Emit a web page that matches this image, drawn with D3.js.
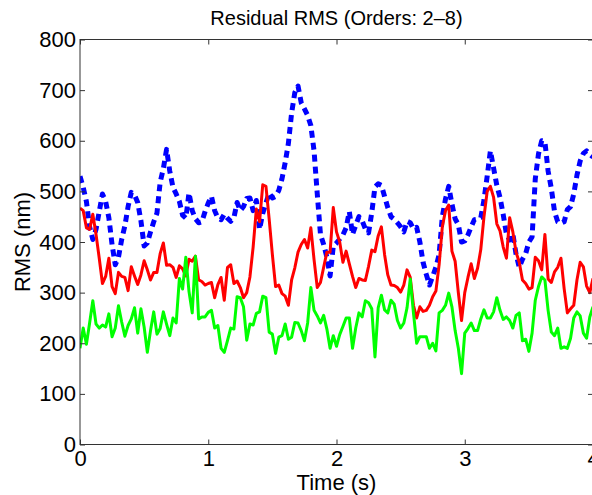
<!DOCTYPE html>
<html>
<head>
<meta charset="utf-8">
<script src="https://cdn.jsdelivr.net/npm/d3@7"></script>
<style>
  body { margin: 0; background: #fff; }
  svg { display: block; }
  text { font-family: "Liberation Sans", Arial, Helvetica, sans-serif; fill: #000; }
</style>
</head>
<body>
<svg id="chart" width="592" height="495"></svg>
<script>
// sample step of the residual series, seconds
const dt = 0.025;

const blueRms = [
  530, 508, 480, 430, 405, 425, 460, 495, 480, 448, 395, 355, 370, 405, 432, 470, 498, 493, 478, 442,
  392, 398, 420, 440, 457, 518, 545, 583, 540, 508, 495, 480, 453, 447, 497, 462, 446, 438, 440, 460,
  477, 490, 462, 447, 444, 455, 447, 441, 448, 478, 462, 470, 486, 487, 462, 482, 425, 457, 477, 497,
  487, 490, 502, 525, 557, 595, 655, 695, 708, 675, 663, 650, 630, 580, 495, 415, 395, 370, 333, 392,
  398, 406, 414, 428, 460, 415, 433, 450, 442, 426, 418, 458, 509, 515, 512, 490, 468, 450, 445, 438,
  430, 420, 441, 438, 426, 429, 400, 360, 336, 315, 332, 350, 375, 450, 485, 510, 475, 446, 434, 400,
  402, 414, 430, 444, 445, 448, 483, 530, 580, 546, 512, 488, 454, 416, 404, 416, 376, 350, 366, 377,
  400, 410, 525, 574, 600, 598, 540, 506, 460, 440, 437, 440, 464, 470, 495, 532, 560, 575, 580, 573,
  568
];

const redRms = [
  467, 462, 428, 425, 455, 415, 368, 318, 332, 368, 312, 298, 340, 332, 330, 304, 351, 333, 316, 335,
  363, 345, 325, 340, 340, 377, 398, 354, 355, 350, 330, 353, 347, 333, 366, 362, 372, 325, 322, 315,
  318, 320, 290, 316, 330, 285, 350, 355, 318, 323, 310, 290, 300, 331, 390, 465, 440, 513, 510, 445,
  375, 312, 315, 298, 293, 275, 325, 349, 380, 395, 405, 388, 428, 365, 310, 320, 350, 380, 380, 468,
  420, 400, 360, 382, 357, 332, 310, 328, 325, 324, 352, 384, 381, 412, 430, 375, 335, 315, 314, 310,
  301, 315, 345, 330, 275, 250, 272, 263, 265, 275, 292, 303, 355, 430, 462, 473, 382, 362, 300, 245,
  300, 330, 357, 328, 348, 385, 450, 500, 510, 488, 436, 422, 390, 368, 448, 420, 380, 360, 325, 318,
  307, 310, 370, 363, 345, 415, 327, 320, 341, 350, 368, 308, 260, 268, 275, 325, 360, 351, 313, 300,
  328
];

const greenRms = [
  190, 230, 198, 240, 284, 238, 230, 236, 232, 258, 213, 230, 274, 242, 214, 235, 248, 270, 220, 268,
  232, 182, 225, 262, 218, 229, 262, 238, 215, 250, 240, 328, 307, 370, 302, 260, 372, 248, 252, 252,
  261, 265, 230, 235, 190, 182, 205, 230, 228, 292, 290, 272, 206, 238, 236, 259, 262, 293, 290, 222,
  218, 180, 212, 215, 238, 208, 212, 241, 240, 225, 205, 240, 310, 265, 254, 240, 255, 228, 190, 215,
  194, 217, 233, 250, 250, 190, 230, 260, 252, 284, 280, 268, 173, 270, 295, 266, 260, 285, 277, 245,
  230, 240, 270, 327, 260, 200, 213, 213, 213, 190, 200, 185, 260, 265, 275, 299, 272, 225, 190, 140,
  220, 229, 240, 225, 225, 248, 266, 250, 250, 262, 290, 265, 247, 252, 245, 230, 255, 260, 205, 208,
  184, 220, 285, 312, 331, 325, 265, 222, 215, 230, 190, 193, 190, 210, 250, 262, 254, 220, 210, 252,
  272
];

const xTicks = [0, 1, 2, 3, 4];
const yTicks = [0, 100, 200, 300, 400, 500, 600, 700, 800];

const series = [
  { values: blueRms, color: "#0000ff", width: 5, dash: "7,5" },
  { values: redRms, color: "#ff0000", width: 3, dash: null },
  { values: greenRms, color: "#00ff00", width: 3, dash: null }
];

const svg = d3.select("#chart");
const margin = { top: 40, right: -1, bottom: 50, left: 80 };
const W = 592, H = 495;
const x0 = margin.left, x1 = W - margin.right;
const y0 = H - margin.bottom - 0.5, y1 = margin.top - 0.5;

const x = d3.scaleLinear().domain([0, 4]).range([x0, x1]);
const y = d3.scaleLinear().domain([0, 800]).range([y0, y1]);

svg.append("defs").append("clipPath").attr("id", "plotclip")
  .append("rect")
  .attr("x", x0).attr("y", y1)
  .attr("width", x1 - x0).attr("height", y0 - y1);

const line = d3.line()
  .x((d, i) => x(i * dt))
  .y((d) => y(d));

const plot = svg.append("g").attr("clip-path", "url(#plotclip)");
series.forEach((s) => {
  plot.append("path")
    .datum(s.values)
    .attr("fill", "none")
    .attr("stroke", s.color)
    .attr("stroke-width", s.width)
    .attr("stroke-linejoin", "round")
    .attr("stroke-dasharray", s.dash)
    .attr("d", line);
});

// axes, matlab style: box with inward ticks
const axisColor = "#333";
const tickLen = 5;
const fontSize = 22;

const xAxis = (g) =>
  g.attr("transform", `translate(0,${y0})`)
    .call(d3.axisBottom(x).tickValues(xTicks).tickSize(-tickLen).tickPadding(6).tickFormat(d3.format("d")))
    .call((g) => g.select(".domain").remove());

const yAxis = (g) =>
  g.attr("transform", `translate(${x0},0)`)
    .call(d3.axisLeft(y).tickValues(yTicks).tickSize(-tickLen).tickPadding(4).tickFormat(d3.format("d")))
    .call((g) => g.select(".domain").remove());

const xTop = (g) =>
  g.attr("transform", `translate(0,${y1})`)
    .call(d3.axisTop(x).tickValues(xTicks).tickSize(-tickLen).tickFormat(""))
    .call((g) => g.select(".domain").remove());

const yRight = (g) =>
  g.attr("transform", `translate(${x1},0)`)
    .call(d3.axisRight(y).tickValues(yTicks).tickSize(-tickLen).tickFormat(""))
    .call((g) => g.select(".domain").remove());

[xAxis, yAxis, xTop, yRight].forEach((ax) => {
  svg.append("g").call(ax)
    .call((g) => g.selectAll(".tick line").attr("stroke", axisColor))
    .call((g) => g.selectAll(".tick text")
      .attr("font-size", fontSize)
      .attr("font-family", "Liberation Sans, Arial, sans-serif")
      .attr("fill", "#000"));
});

svg.append("rect")
  .attr("x", x0).attr("y", y1)
  .attr("width", x1 - x0).attr("height", y0 - y1)
  .attr("fill", "none")
  .attr("stroke", axisColor)
  .attr("stroke-width", 1);

svg.append("text")
  .attr("x", (x0 + x1) / 2).attr("y", 25)
  .attr("text-anchor", "middle")
  .attr("font-size", 20)
  .text("Residual RMS (Orders: 2\u20138)");

svg.append("text")
  .attr("x", (x0 + x1) / 2).attr("y", 490)
  .attr("text-anchor", "middle")
  .attr("font-size", fontSize)
  .text("Time (s)");

svg.append("text")
  .attr("transform", `translate(30,${(y0 + y1) / 2}) rotate(-90)`)
  .attr("text-anchor", "middle")
  .attr("font-size", fontSize)
  .text("RMS (nm)");
</script>
</body>
</html>
